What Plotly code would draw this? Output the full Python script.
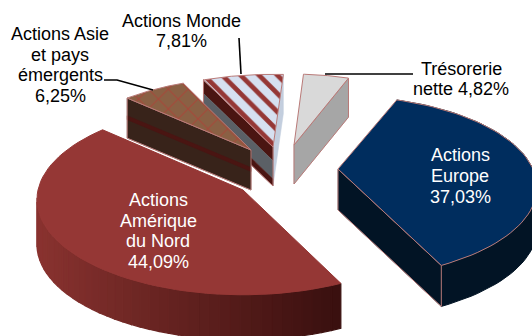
import numpy as np
import plotly.graph_objects as go

# Data, in drawing order clockwise from the start angle
labels = ["Trésorerie<br>nette 4,82%", "Actions<br>Europe<br>37,03%",
          "Actions<br>Amérique<br>du Nord<br>44,09%",
          "Actions Asie<br>et pays<br>émergents<br>6,25%", "Actions Monde<br>7,81%"]
values = [4.82, 37.03, 44.09, 6.25, 7.81]

# Layout of the exploded perspective pie
START_DEG = 3.6
apex_x = [294, 338, 243, 251, 273]
apex_y = [145, 169, 190, 150, 147]
radius = [178, 195, 205, 190, 195]
squash = [0.47, 0.45, 0.46, 0.45, 0.44]
persp = [0.18, 0.20, 0.10, 0.18, 0.18]
depth = [39, 41, 45, 40, 39]
OUTLINE = "#b97a78"

label_x = [461, 460, 158, 60, 181]
label_y = [79, 176, 231, 65, 31]
label_col = ["black", "white", "white", "black", "black"]
FS = 18
PITCH = 20.8

# Cumulative angles
edges = START_DEG + np.concatenate([[0], np.cumsum(values)]) / sum(values) * 360


def project(i, phi):
    phi = np.radians(phi)
    u, v = np.sin(phi), -np.cos(phi)
    s = 1 / (1 - persp[i] * v)
    return apex_x[i] + radius[i] * s * u, apex_y[i] + radius[i] * squash[i] * s * v


def arc(i, n=60):
    return project(i, np.linspace(edges[i], edges[i + 1], n))


fig = go.Figure()


def poly(xs, ys, fill, line=OUTLINE, lw=1, pattern=None):
    fig.add_trace(go.Scatter(
        x=list(xs) + [xs[0]], y=list(ys) + [ys[0]], mode="lines", fill="toself",
        fillcolor=fill, fillpattern=pattern,
        line=dict(color=line, width=lw), hoverinfo="skip", showlegend=False))


def band(i, px, py, d0, d1, fill):
    """A piece of a vertical cut face between two depth fractions."""
    a, b = apex_x[i], apex_y[i]
    D = depth[i]
    poly([a, px, px, a], [b + D * d0, py + D * d0, py + D * d1, b + D * d1], fill, line=fill, lw=0.5)


def top(i, fill, pattern=None):
    ax_, ay_ = arc(i)
    poly([apex_x[i]] + list(ax_), [apex_y[i]] + list(ay_), fill, pattern=pattern)


def outline_face(i, px, py):
    a, b = apex_x[i], apex_y[i]
    D = depth[i]
    fig.add_trace(go.Scatter(x=[a, px, px, a, a], y=[b, py, py + D, b + D, b], mode="lines",
                             line=dict(color=OUTLINE, width=1), hoverinfo="skip", showlegend=False))


# Trésorerie
i = 0
px, py = project(i, edges[i + 1])
band(i, px, py, 0, 1, "#a6a6a6")
outline_face(i, px, py)
top(i, "#d9d9d9")

# Europe
i = 1
ax_, ay_ = arc(i)
poly(list(ax_) + list(ax_[::-1]), list(ay_) + list((ay_ + depth[i])[::-1]), "#021425", line="#021425")
px, py = project(i, edges[i + 1])
band(i, px, py, 0, 1, "#021425")
outline_face(i, px, py)
top(i, "#002d5e")

# Monde
i = 4
px, py = project(i, edges[i + 1])
band(i, px, py, 0, 1, "#c3cede")
px, py = project(i, edges[i])
band(i, px, py, 0, 0.35, "#4a1512")
band(i, px, py, 0.35, 0.82, "#5b6066")
band(i, px, py, 0.82, 1, "#4a1512")
outline_face(i, px, py)
top(i, "#d6e0f0", pattern=dict(shape="\\", bgcolor="#d6e0f0", fgcolor="#953735", fgopacity=1, size=13, solidity=0.36))

# Asie
i = 3
px, py = project(i, edges[i])
band(i, px, py, 0, 1, "#38231a")
band(i, px, py, 0.44, 0.54, "#4a1512")
outline_face(i, px, py)
top(i, "#8a6044", pattern=dict(shape="x", bgcolor="#8a6044", fgcolor="#a5493a", fgopacity=1, size=14, solidity=0.16))

# Amérique: outer wall shaded from light (left) to dark (right)
i = 2
phi = np.linspace(edges[i], edges[i + 1], 61)
xa, ya = project(i, phi)
dark, light = np.array([0x3a, 0x10, 0x0f]), np.array([0x8a, 0x33, 0x30])
for k in range(60):
    if xa[k] < xa[k + 1]:
        continue
    f = min(1.0, (xa[0] - xa[k]) / (xa[0] - xa.min()))
    c = dark + (light - dark) * f
    col = "rgb(%d,%d,%d)" % tuple(c)
    poly([xa[k], xa[k + 1], xa[k + 1], xa[k]],
         [ya[k], ya[k + 1], ya[k + 1] + depth[i], ya[k] + depth[i]], col, line=col, lw=1.2)
top(i, "#953735", )
fig.data[-1].line.color = "#953735"

# Leader lines
for lx, ly in [([239, 241], [38, 74]), ([325, 413], [74, 74]), ([104, 117, 153], [80, 80, 90])]:
    fig.add_trace(go.Scatter(x=lx, y=ly, mode="lines", line=dict(color="black", width=1.6),
                             hoverinfo="skip", showlegend=False))

for t, x, y, c in zip(labels, label_x, label_y, label_col):
    rows = t.split("<br>")
    for r, row in enumerate(rows):
        fig.add_annotation(x=x, y=y + (r - (len(rows) - 1) / 2) * PITCH, text=row, showarrow=False,
                           align="center", font=dict(family="Liberation Sans", size=FS, color=c))

fig.update_layout(
    width=532, height=336, margin=dict(l=0, r=0, t=0, b=0),
    paper_bgcolor="white", plot_bgcolor="white", showlegend=False,
    xaxis=dict(range=[0, 532], visible=False, fixedrange=True),
    yaxis=dict(range=[336, 0], visible=False, fixedrange=True),
)
fig.write_html("out.html", config={"displayModeBar": False},
               post_script="document.body.style.margin='0';document.documentElement.style.overflow='hidden';")
